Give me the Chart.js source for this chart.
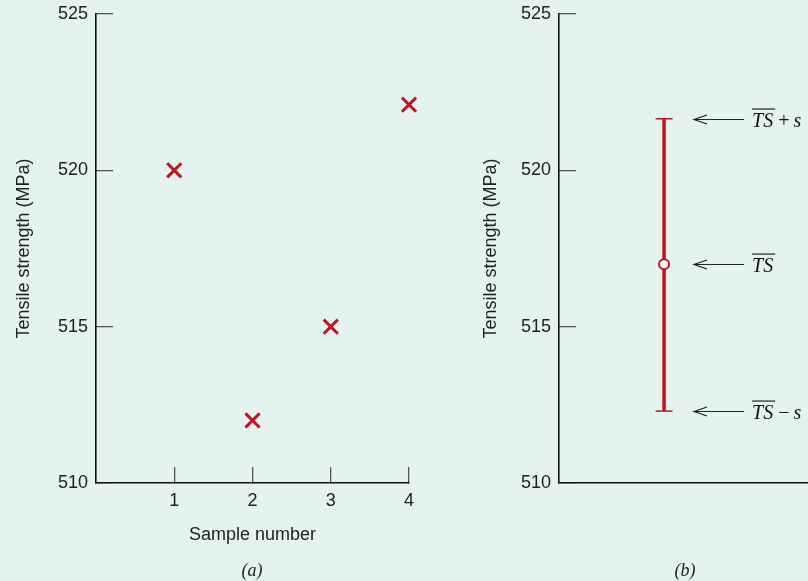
<!DOCTYPE html>
<html>
<head>
<meta charset="utf-8">
<script src="https://cdn.jsdelivr.net/npm/chart.js@4"></script>
<style>
  body { margin: 0; background: #e4f3ef; width: 808px; height: 581px; overflow: hidden; position: relative; }
  canvas { position: absolute; top: 0; }
  #left { left: 0; }
  #right { left: 464px; }
  .cap { position: absolute; top: 560px; line-height: 20px; font: italic 18px "Liberation Serif", serif; color: #222; transform: translateX(-50%); }
</style>
</head>
<body>
<canvas id="left" width="430" height="581"></canvas>
<canvas id="right" width="354" height="581"></canvas>
<div class="cap" style="left:252px">(a)</div>
<div class="cap" style="left:685px">(b)</div>
<script>
// panel (a): individual samples
const sampleNumbers = [1, 2, 3, 4];
const tensileStrength = [520, 512, 515, 522.1];
const xTicks = [1, 2, 3, 4];
const yTicks = [510, 515, 520, 525];

// panel (b): mean and +/- one standard deviation
const meanTS = 517;
const upperTS = 521.65;
const lowerTS = 512.3;
const refValues = [upperTS, meanTS, lowerTS];
const refOps = ["+", "", "\u2212"];

const RED = "#c0141e";
Chart.defaults.font.family = "'Liberation Sans', Arial, sans-serif";
Chart.defaults.color = "#222";

function yAxis(axisWidth, titlePad) {
    return {
        min: 510,
        max: 525,
        afterBuildTicks: s => { s.ticks = yTicks.map(v => ({ value: v })); },
        afterFit: s => { s.width = axisWidth; s.paddingTop = 0; s.paddingBottom = 0; },
        grid: { drawOnChartArea: false, tickLength: -17, color: "#555", lineWidth: 1.3 },
        border: { color: "#111", width: 1.6 },
        ticks: { padding: 25, color: "#222", font: { size: 18 } },
        title: {
            display: true,
            text: "Tensile strength (MPa)",
            color: "#222",
            font: { size: 18 },
            padding: { top: titlePad }
        }
    };
}

function fitX(s) {
    s.height = 70;
    s.paddingLeft = 0;
    s.paddingRight = 0;
}

new Chart(document.getElementById("left"), {
    type: "scatter",
    data: {
        datasets: [{
            data: sampleNumbers.map((n, i) => ({ x: n, y: tensileStrength[i] })),
            pointStyle: "crossRot",
            pointRadius: 10,
            borderWidth: 3,
            borderColor: RED,
            backgroundColor: RED,
            clip: false
        }]
    },
    options: {
        responsive: false,
        animation: false,
        layout: { padding: { top: 14, right: 21, bottom: 28, left: 0 } },
        plugins: { legend: { display: false }, tooltip: { enabled: false } },
        scales: {
            x: {
                min: 0,
                max: 4,
                afterBuildTicks: s => { s.ticks = xTicks.map(v => ({ value: v })); },
                afterFit: fitX,
                grid: { drawOnChartArea: false, tickLength: -16, color: "#555", lineWidth: 1.3 },
                border: { color: "#111", width: 1.6 },
                ticks: { padding: 23, color: "#222", font: { size: 18 }, maxRotation: 0 },
                title: {
                    display: true,
                    text: "Sample number",
                    color: "#222",
                    font: { size: 18 },
                    padding: { bottom: 7 }
                }
            },
            y: yAxis(96, 13)
        }
    }
});

// arrows with TS-bar labels next to the error bar
const refLabels = {
    id: "refLabels",
    afterDatasetsDraw(chart) {
        const { ctx, scales: { x, y } } = chart;
        const bx = x.getPixelForValue(1);
        ctx.save();
        refValues.forEach((v, i) => {
            const py = Math.round(y.getPixelForValue(v)) + 0.5;
            const x0 = bx + 30, x1 = bx + 80;
            ctx.strokeStyle = "#222";
            ctx.lineWidth = 1.2;
            ctx.beginPath();
            ctx.moveTo(x0, py);
            ctx.lineTo(x1, py);
            ctx.moveTo(x0 + 13, py - 4.5);
            ctx.lineTo(x0, py);
            ctx.lineTo(x0 + 13, py + 4.5);
            ctx.stroke();

            let tx = x1 + 8;
            const base = py + 7;
            ctx.fillStyle = "#111";
            ctx.textBaseline = "alphabetic";
            ctx.textAlign = "left";
            ctx.font = "italic 20px 'Liberation Serif', serif";
            ctx.fillText("TS", tx, base);
            const w = ctx.measureText("TS").width;
            ctx.fillRect(tx, base - 18, w + 2, 1.1);
            if (refOps[i]) {
                tx += w + 5;
                ctx.font = "20px 'Liberation Serif', serif";
                ctx.fillText(refOps[i], tx, base);
                tx += ctx.measureText(refOps[i]).width + 4;
                ctx.font = "italic 20px 'Liberation Serif', serif";
                ctx.fillText("s", tx, base);
            }
        });
        ctx.restore();
    }
};

new Chart(document.getElementById("right"), {
    type: "scatter",
    data: {
        datasets: [{
            // mean marker, drawn on top of the bar
            data: [{ x: 1, y: meanTS }],
            order: 1,
            pointStyle: "circle",
            pointRadius: 5,
            backgroundColor: "#fff",
            borderColor: RED,
            borderWidth: 2,
            clip: false
        }, {
            data: [{ x: 1, y: lowerTS }, { x: 1, y: upperTS }],
            order: 2,
            showLine: true,
            borderColor: RED,
            borderWidth: 3.5,
            pointStyle: "line",
            pointRadius: 8.5,
            pointBorderWidth: 1.5,
            pointBorderColor: RED,
            clip: false
        }]
    },
    options: {
        responsive: false,
        animation: false,
        layout: { padding: { top: 14, right: 0, bottom: 28, left: 0 } },
        plugins: { legend: { display: false }, tooltip: { enabled: false } },
        scales: {
            x: {
                min: 0,
                max: 2.37,
                afterFit: fitX,
                grid: { display: false, drawTicks: false },
                border: { color: "#111", width: 1.6 },
                ticks: { display: false }
            },
            y: yAxis(95, 16)
        }
    },
    plugins: [refLabels]
});
</script>
</body>
</html>
